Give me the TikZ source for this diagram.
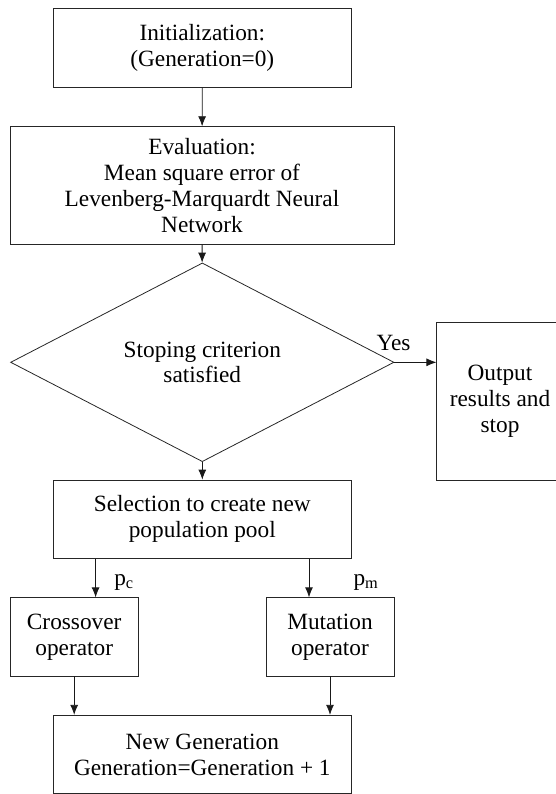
\documentclass[tikz,border=0pt]{standalone}
\usepackage{fontspec}
\setmainfont{Liberation Serif}
\usepackage{tikz}
\usetikzlibrary{positioning,arrows.meta,shapes.geometric,calc}

\begin{document}
\begin{tikzpicture}
	[x=1pt,y=1pt,
	blk/.style={rectangle,draw=black!85,line width=0.8pt,inner sep=0pt,align=center},
	dia/.style={diamond,draw=black!85,line width=0.8pt,inner sep=0pt,align=center},
	arr/.style={-{Latex[length=10pt,width=8pt]},line width=0.8pt,draw=black!90},
	font=\fontsize{23.3}{25.8}\selectfont]
	\useasboundingbox (0,0) rectangle (555,-794);
	%TOP
	\node[blk,minimum width=298.4pt,minimum height=79pt] (init) at (202.3,-47.8) {Initialization:\\(Generation=0)};
	\node[blk,minimum width=384.1pt,minimum height=117.6pt] (eval) at (202,-185.5) {Evaluation:\\Mean square error of\\Levenberg-Marquardt Neural\\Network};
	\node[dia,minimum width=383.4pt,minimum height=156.7pt] (crit) at (202.3,-362.3) {Stoping criterion\\satisfied};
	\node[blk,minimum width=126.3pt,minimum height=157.3pt] (out) at (500,-401.3) {Output\\results and\\stop};
	\draw[arr] (init) -- (eval);
	\draw[arr] (eval) -- (crit);
	\draw[arr] (crit.east) -- (out.west |- crit.east);
	\node (yes) at (393.5,-343) {Yes};
	%BOTTOM
	\node[blk,minimum width=298.4pt,minimum height=78.3pt] (sel) at (202.3,-519.2) {Selection to create new\\population pool};
	\node[blk,minimum width=128.5pt,minimum height=78.3pt] (cross) at (74.2,-636.9) {Crossover\\operator};
	\node[blk,minimum width=128pt,minimum height=78.3pt] (mut) at (330,-636.9) {Mutation\\operator};
	\node[blk,minimum width=298.4pt,minimum height=78.5pt] (newgen) at (202.3,-754.5) {New Generation\\Generation=Generation + 1};
	\coordinate (xc) at (95.6,0);
	\coordinate (xm) at (309,0);
	\draw[arr] (crit.south) -- (sel.north);
	\draw[arr] (xc |- sel.south) -- (xc |- cross.north);
	\draw[arr] (xm |- sel.south) -- (xm |- mut.north);
	\node (pc) at (124,-582) {p\textsubscript{c}};
	\node (pm) at (366,-582) {p\textsubscript{m}};
	\draw[arr] (cross.south) -- (cross.south |- newgen.north);
	\draw[arr] (mut.south) -- (mut.south |- newgen.north);
\end{tikzpicture}
\end{document}
